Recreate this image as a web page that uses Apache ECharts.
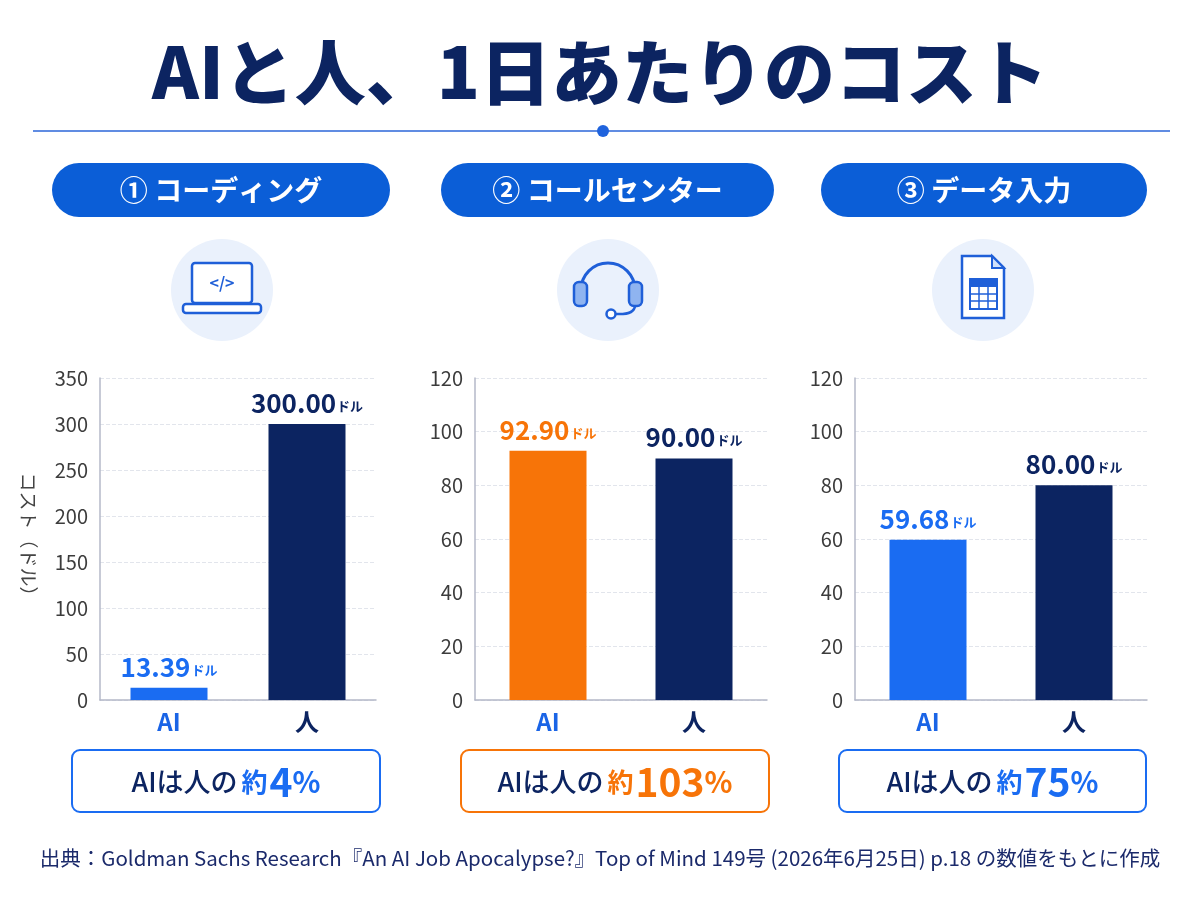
<!DOCTYPE html>
<html lang="ja">
<head>
<meta charset="UTF-8" />
<title>AIと人、1日あたりのコスト</title>
<style>
    html, body { margin: 0; padding: 0; background: #ffffff; }
    #chart { width: 1200px; height: 900px; }
</style>
</head>
<body>
<div id="chart"></div>
<script src="https://cdn.jsdelivr.net/npm/echarts@6/dist/echarts.min.js"></script>
<script>
// データ
const panels = ['① コーディング', '② コールセンター', '③ データ入力'];
const categories = ['AI', '人'];
const aiCost = [13.39, 92.90, 59.68];
const humanCost = [300.00, 90.00, 80.00];
const yMax = [350, 120, 120];
const yStep = [50, 20, 20];
const accent = ['#1a6cf2', '#f77408', '#1a6cf2'];

const NAVY = '#0c2461';
const BLUE = '#0b5ed7';
const FONT = '"Noto Sans CJK JP", "Noto Sans", sans-serif';

// レイアウト（各パネル）
const gridLeft = [100, 475, 855];
const gridWidth = [276, 292, 292];
const pillX = [52, 441, 821];
const pillW = [338, 333, 326];
const iconX = [222, 608, 983];
const boxX = [72, 461, 839];
const boxW = [308, 308, 307];

const chart = echarts.init(document.getElementById('chart'));

const grids = [], xAxes = [], yAxes = [], series = [];
for (let i = 0; i < 3; i++) {
    grids.push({ left: gridLeft[i], top: 378, width: gridWidth[i], height: 322 });
    xAxes.push({
        type: 'category', gridIndex: i, data: categories,
        axisLine: { lineStyle: { color: '#b4b8c8', width: 1.5 } },
        axisTick: { show: false },
        axisLabel: {
            margin: 10,
            formatter: v => v === 'AI' ? '{ai|AI}' : '{p|人}',
            rich: {
                ai: { color: '#1a64e6', fontSize: 24, fontWeight: 'bold', fontFamily: FONT },
                p: { color: NAVY, fontSize: 24, fontWeight: 'bold', fontFamily: FONT }
            }
        }
    });
    yAxes.push({
        type: 'value', gridIndex: i, min: 0, max: yMax[i], interval: yStep[i],
        name: i === 0 ? 'コスト（ドル）' : '',
        nameLocation: 'middle', nameRotate: -90, nameGap: 62,
        nameTextStyle: { fontSize: 19, color: '#444', fontFamily: FONT },
        axisLine: { show: true, lineStyle: { color: '#b4b8c8', width: 1.5 } },
        axisTick: { show: false },
        axisLabel: { fontSize: 20, color: '#3c3c3c', margin: 12, fontFamily: FONT },
        splitLine: { lineStyle: { type: 'dashed', color: '#e2e5ec' } }
    });
    const vals = [aiCost[i], humanCost[i]];
    const cols = [accent[i], NAVY];
    series.push({
        type: 'bar', xAxisIndex: i, yAxisIndex: i, barWidth: 77,
        data: vals.map((v, k) => ({
            value: v,
            itemStyle: { color: cols[k] },
            label: {
                show: true, position: 'top', distance: 8,
                formatter: '{v|' + v.toFixed(2) + '}{u|ドル}',
                rich: {
                    v: { color: cols[k], fontSize: 26, fontWeight: 'bold', fontFamily: FONT },
                    u: { color: cols[k], fontSize: 13, fontWeight: 'bold', fontFamily: FONT, padding: [6, 0, 0, 1] }
                }
            }
        }))
    });
}

const graphic = [];
// タイトル
graphic.push({
    type: 'text', x: 600, y: 72,
    style: { text: 'AIと人、1日あたりのコスト', fill: NAVY, font: '900 71px ' + FONT, align: 'center', verticalAlign: 'middle' }
});
// 区切り線と点
graphic.push({ type: 'line', shape: { x1: 33, y1: 131, x2: 1170, y2: 131 }, style: { stroke: '#2b66d9', lineWidth: 1.5 } });
graphic.push({ type: 'circle', shape: { cx: 603, cy: 131, r: 6 }, style: { fill: '#1f63dd' } });

for (let i = 0; i < 3; i++) {
    // 見出しの丸いラベル
    graphic.push({
        type: 'rect', shape: { x: pillX[i], y: 163, width: pillW[i], height: 54, r: 27 },
        style: { fill: BLUE }
    });
    graphic.push({
        type: 'text', x: pillX[i] + pillW[i] / 2, y: 190,
        style: { text: panels[i], fill: '#fff', font: 'bold 28px ' + FONT, align: 'center', verticalAlign: 'middle' }
    });
    // アイコンの背景円
    graphic.push({ type: 'circle', shape: { cx: iconX[i], cy: 290, r: 51 }, style: { fill: '#eaf1fc' } });

    // 比率の枠
    const ratio = Math.round(aiCost[i] / humanCost[i] * 100);
    graphic.push({
        type: 'rect', shape: { x: boxX[i], y: 750, width: boxW[i], height: 62, r: 8 },
        style: { fill: '#fff', stroke: accent[i], lineWidth: 2 }
    });
    graphic.push({
        type: 'text', x: boxX[i] + boxW[i] / 2, y: 782,
        style: {
            text: '{a|AIは人の}{b|約}{c|' + ratio + '}{d|%}',
            align: 'center', verticalAlign: 'middle',
            rich: {
                a: { fill: NAVY, fontSize: 27, fontWeight: 500, fontFamily: FONT },
                b: { fill: accent[i], fontSize: 26, fontWeight: 'bold', fontFamily: FONT, padding: [0, 2, 0, 4] },
                c: { fill: accent[i], fontSize: 39, fontWeight: 'bold', fontFamily: FONT },
                d: { fill: accent[i], fontSize: 29, fontWeight: 'bold', fontFamily: FONT }
            }
        }
    });
}

// アイコン：ノートPC
const IC = '#1f5fd8';
graphic.push({ type: 'rect', shape: { x: 192, y: 263, width: 60, height: 40, r: 3 }, style: { fill: '#fff', stroke: IC, lineWidth: 2.5 } });
graphic.push({ type: 'rect', shape: { x: 183, y: 304, width: 78, height: 9, r: 3 }, style: { fill: '#fff', stroke: IC, lineWidth: 2.5 } });
graphic.push({ type: 'text', x: 222, y: 283, style: { text: '</>', fill: IC, font: 'bold 16px ' + FONT, align: 'center', verticalAlign: 'middle' } });

// アイコン：ヘッドセット
graphic.push({ type: 'arc', shape: { cx: 608, cy: 290, r: 27, startAngle: Math.PI, endAngle: 2 * Math.PI }, style: { stroke: IC, lineWidth: 3, fill: null } });
graphic.push({ type: 'rect', shape: { x: 574, y: 282, width: 13, height: 24, r: 5 }, style: { fill: '#8fb4f0', stroke: IC, lineWidth: 2.5 } });
graphic.push({ type: 'rect', shape: { x: 629, y: 282, width: 13, height: 24, r: 5 }, style: { fill: '#8fb4f0', stroke: IC, lineWidth: 2.5 } });
graphic.push({ type: 'bezierCurve', shape: { x1: 635, y1: 306, cpx1: 634, cpy1: 315, x2: 616, y2: 314 }, style: { stroke: IC, lineWidth: 2.5, fill: null } });
graphic.push({ type: 'circle', shape: { cx: 611, cy: 314, r: 4.5 }, style: { fill: '#fff', stroke: IC, lineWidth: 2.5 } });

// アイコン：表計算シート
graphic.push({ type: 'polygon', shape: { points: [[962, 256], [992, 256], [1004, 268], [1004, 318], [962, 318]] }, style: { fill: '#fff', stroke: IC, lineWidth: 2.5 } });
graphic.push({ type: 'polygon', shape: { points: [[992, 256], [992, 268], [1004, 268]] }, style: { stroke: IC, lineWidth: 2, fill: '#cfe0fb' } });
graphic.push({ type: 'rect', shape: { x: 970, y: 279, width: 27, height: 8 }, style: { fill: IC } });
graphic.push({ type: 'rect', shape: { x: 970, y: 279, width: 27, height: 30 }, style: { fill: null, stroke: IC, lineWidth: 2 } });
[979, 988].forEach(x => graphic.push({ type: 'line', shape: { x1: x, y1: 287, x2: x, y2: 309 }, style: { stroke: IC, lineWidth: 1.5 } }));
[294, 301].forEach(y => graphic.push({ type: 'line', shape: { x1: 970, y1: y, x2: 997, y2: y }, style: { stroke: IC, lineWidth: 1.5 } }));

// 出典
graphic.push({
    type: 'text', x: 600, y: 858,
    style: {
        text: '出典：Goldman Sachs Research『An AI Job Apocalypse?』Top of Mind 149号 (2026年6月25日) p.18 の数値をもとに作成',
        fill: '#1b2a6b', font: '20.5px ' + FONT, align: 'center', verticalAlign: 'middle'
    }
});

chart.setOption({
    backgroundColor: '#ffffff',
    animation: false,
    grid: grids,
    xAxis: xAxes,
    yAxis: yAxes,
    series: series,
    graphic: graphic
});
</script>
</body>
</html>
